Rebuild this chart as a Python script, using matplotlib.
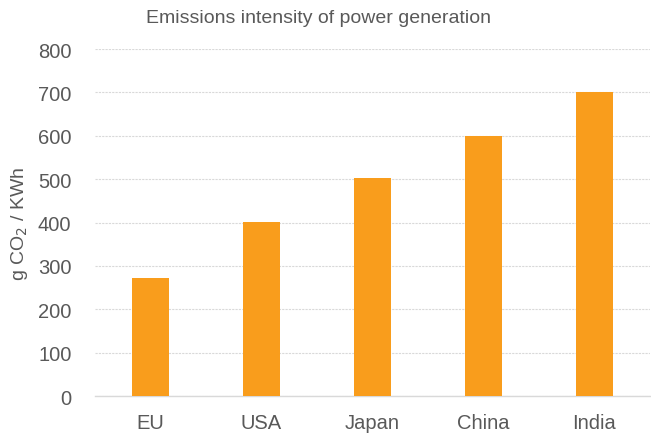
import matplotlib.pyplot as plt
import numpy as np

plt.rcParams['font.family'] = ['Liberation Sans', 'DejaVu Sans']

countries = ['EU', 'USA', 'Japan', 'China', 'India']
intensity = [272, 402, 503, 600, 701]

text_col = '#595959'
bar_col = '#F99D1C'

fig = plt.figure(figsize=(6.51, 4.35), dpi=100)
ax = fig.add_axes([0.146, 0.087, 0.852, 0.798])

x = np.arange(len(countries))
ax.bar(x, intensity, width=0.33, color=bar_col, zorder=3)

ax.set_xlim(-0.5, len(countries) - 0.5)
ax.set_ylim(0, 800)
ax.set_yticks(np.arange(0, 801, 100))
ax.set_xticks(x)
ax.set_xticklabels(countries)
ax.tick_params(axis='both', length=0, colors=text_col)
ax.tick_params(axis='x', pad=12, labelsize=14.5)
ax.tick_params(axis='y', pad=17, labelsize=14.5)

ax.grid(axis='y', color='#D9D9D9', linestyle=(0, (2, 1)), linewidth=0.8, zorder=0)
for s in ['top', 'right', 'left']:
    ax.spines[s].set_visible(False)
ax.spines['bottom'].set_color('#D9D9D9')
ax.spines['bottom'].set_linewidth(1)

ax.set_ylabel('g CO$_2$ / KWh', color=text_col, fontsize=14, labelpad=6)
fig.text(0.49, 0.958, 'Emissions intensity of power generation', ha='center', va='center',
         color=text_col, fontsize=14)

fig.savefig('out.png', dpi=100)
